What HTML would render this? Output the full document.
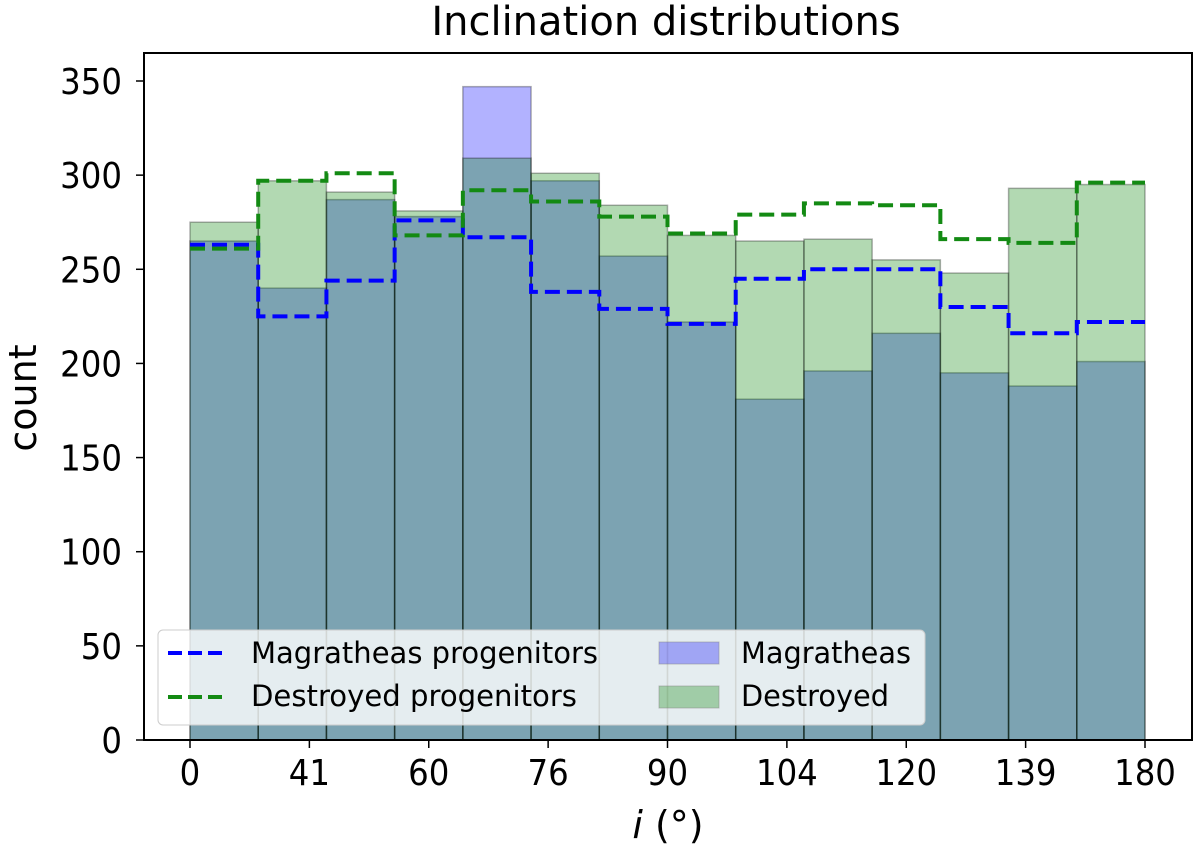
<!DOCTYPE html>
<html><head><meta charset="utf-8"><style>
body{margin:0;background:#fff;}
svg text{font-family:"DejaVu Sans","Liberation Sans",sans-serif;fill:#000;}
</style></head><body>
<svg id="chart" width="1200" height="849" viewBox="0 0 1200 849" xmlns="http://www.w3.org/2000/svg">
<text x="666" y="35" font-size="40" text-anchor="middle">Inclination distributions</text>
<g id="bars"></g>
<g id="steps"></g>
<rect x="144" y="53" width="1048" height="687" fill="none" stroke="#000" stroke-width="2"/>
<g id="yaxis"></g>
<g id="xaxis"></g>
<text transform="translate(36,398) rotate(-90)" font-size="38" text-anchor="middle">count</text>
<text x="668" y="838" font-size="38" text-anchor="middle"><tspan font-style="italic">i</tspan> (°)</text>
<g>
<rect x="158" y="630" width="767" height="95" rx="5" fill="#fff" fill-opacity="0.8" stroke="#ccc"/>
<line x1="168" y1="653" x2="228" y2="653" stroke="#0000ff" stroke-width="4" stroke-dasharray="14,6"/>
<text x="251" y="663" font-size="29" textLength="347" lengthAdjust="spacingAndGlyphs">Magratheas progenitors</text>
<line x1="168" y1="697" x2="228" y2="697" stroke="#138a13" stroke-width="4" stroke-dasharray="14,6"/>
<text x="251" y="706" font-size="29" textLength="326" lengthAdjust="spacingAndGlyphs">Destroyed progenitors</text>
<rect x="659" y="642" width="60" height="22" fill="#0000ff" fill-opacity="0.3" stroke="#888" stroke-opacity="0.5"/>
<text x="741" y="663" font-size="29" textLength="170" lengthAdjust="spacingAndGlyphs">Magratheas</text>
<rect x="659" y="686" width="60" height="22" fill="#008000" fill-opacity="0.3" stroke="#888" stroke-opacity="0.5"/>
<text x="741" y="706" font-size="29" textLength="148" lengthAdjust="spacingAndGlyphs">Destroyed</text>
</g>
</svg>
<script>
const magratheas = [265,240,287,278,347,297,257,222,181,196,216,195,188,201];
const destroyed = [275,297,291,281,309,301,284,268,265,266,255,248,293,295];
const magProg = [263,225,244,276,267,238,229,221,245,250,250,230,216,222];
const desProg = [261,297,301,268,292,286,278,269,279,285,284,266,264,296];
const xTickLabels = ["0","41","60","76","90","104","120","139","180"];
const yTicks = [0,50,100,150,200,250,300,350];

const NS="http://www.w3.org/2000/svg";
const x0=190,x1=1145,nb=magratheas.length,bw=(x1-x0)/nb;
const xBin=i=>x0+i*bw;
const yS=v=>740-v*(740-81)/350;
function mk(tag,attrs,parent){const e=document.createElementNS(NS,tag);for(const k in attrs)e.setAttribute(k,attrs[k]);parent.appendChild(e);return e;}
const bars=document.getElementById('bars');
[[magratheas,'#0000ff','magratheas'],[destroyed,'#008000','destroyed']].forEach(([arr,col,nm])=>{
  arr.forEach((v,i)=>{
    const r=mk('rect',{x:xBin(i),y:yS(v),width:bw,height:yS(0)-yS(v),fill:col,'fill-opacity':0.3,stroke:'#000','stroke-opacity':0.3,'stroke-width':1.5},bars);
    
    
  });
});
const steps=document.getElementById('steps');
[[magProg,'#0000ff','magratheas-progenitors'],[desProg,'#138a13','destroyed-progenitors']].forEach(([arr,col,nm])=>{
  let d='';
  arr.forEach((v,i)=>{d+=(i===0?'M':'L')+xBin(i)+','+yS(v)+' L'+xBin(i+1)+','+yS(v)+' ';});
  const p=mk('path',{d:d,fill:'none',stroke:col,'stroke-width':4,'stroke-dasharray':'15,7'},steps);
  
  
});
const ya=document.getElementById('yaxis');
yTicks.forEach(v=>{
  const l=mk('line',{x1:136,x2:144,y1:yS(v),y2:yS(v),stroke:'#000','stroke-width':1.5},ya);
  
  
  const t=mk('text',{x:122,y:yS(v)+13,'font-size':36,'text-anchor':'end',transform:'translate(122,0) scale(0.9,1) translate(-122,0)'},ya);
  t.textContent=v;
  
  
});
const xa=document.getElementById('xaxis');
const nt=xTickLabels.length;
xTickLabels.forEach((s,i)=>{
  const x=x0+i*(x1-x0)/(nt-1);
  const l=mk('line',{x1:x,x2:x,y1:740,y2:748,stroke:'#000','stroke-width':1.5},xa);
  
  
  const t=mk('text',{x:x,y:785,'font-size':36,'text-anchor':'middle',transform:'translate('+x+',0) scale(0.9,1) translate('+(-x)+',0)'},xa);
  t.textContent=s;
  
  
});
</script>
</body></html>
